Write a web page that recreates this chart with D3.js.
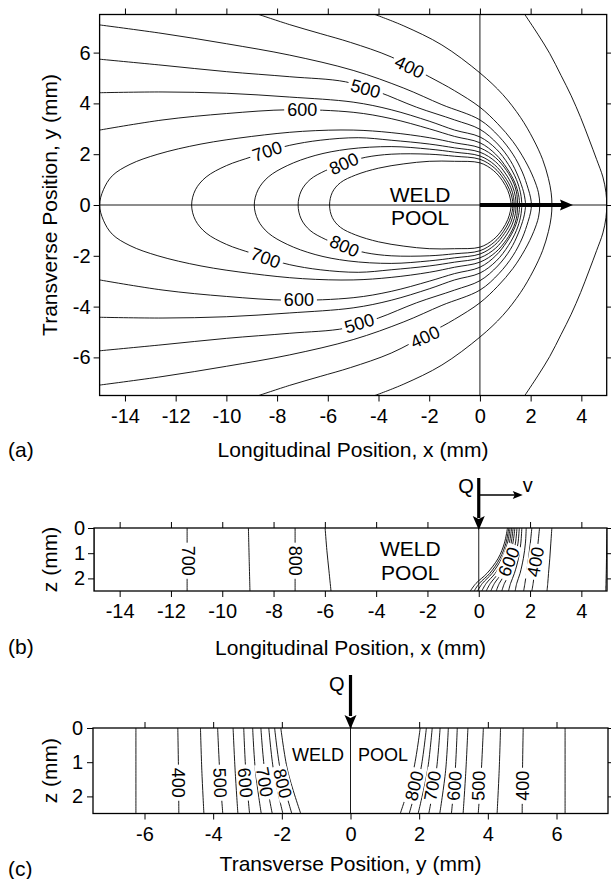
<!DOCTYPE html>
<html>
<head>
<meta charset="utf-8">
<script src="https://cdn.jsdelivr.net/npm/d3@7"></script>
<style>
body { margin: 0; background: #fff; }
text { font-family: "Liberation Sans", Arial, Helvetica, sans-serif; fill: #000; }
</style>
</head>
<body>
<script>
// Weld pool isotherms: (a) top view, (b) longitudinal section, (c) transverse
// section. All positions in mm.

// ---- tick labels ----
var xTicks = [-14, -12, -10, -8, -6, -4, -2, 0, 2, 4];
var yTicks = [-6, -4, -2, 0, 2, 4, 6];
var zTicks = [0, 1, 2];

// ---- (a) isotherms, upper half (y >= 0) [x, y] ----
// open curves: from the frame edge down to the nose on y = 0
var a300 = [[1.77,7.5],[2.3,6.7],[2.75,5.97],[3.2,5.1],[3.6,4.3],[3.97,3.45],
    [4.3,2.6],[4.6,1.8],[4.85,1.1],[4.97,0.5],[5.0,0]];
var a350 = [[-4.14,7.5],[-3,7.05],[-1.5,6.3],[0,5.2],[0.9,4.35],[1.6,3.45],
    [2.1,2.6],[2.47,1.8],[2.7,1.05],[2.81,0.48],[2.84,0]];
var a400 = [[-8.72,7.5],[-7.5,7.1],[-6.3,6.75],[-5.1,6.4],[-3.5,5.83],
    [-2.0,5.05],[-1.0,4.5],[0,3.85],[0.7,3.2],[1.3,2.5],[1.78,1.75],
    [2.12,1.05],[2.31,0.48],[2.36,0]];
var a450 = [[-15,7.09],[-12.5,6.75],[-10,6.35],[-7.5,5.9],[-5,5.3],[-3,4.6],
    [-1.5,3.95],[0,3.35],[0.75,2.7],[1.3,2.0],[1.67,1.3],[1.9,0.65],
    [2.0,0.28],[2.03,0]];
var a500 = [[-15,5.74],[-12.5,5.5],[-10,5.25],[-7.5,5.05],[-5.3,4.85],
    [-4.0,4.45],[-2.5,3.85],[-1,3.35],[0,2.98],[0.7,2.4],[1.2,1.75],
    [1.52,1.1],[1.72,0.52],[1.78,0.22],[1.8,0]];
var a550 = [[-15,4.42],[-12.5,4.45],[-10,4.4],[-7.5,4.25],[-5,4.05],
    [-3.5,3.75],[-2,3.3],[-1,2.95],[0,2.68],[0.65,2.2],[1.12,1.6],
    [1.44,1.0],[1.6,0.48],[1.64,0.2],[1.65,0]];
var a600 = [[-15,2.95],[-12.5,3.35],[-10,3.6],[-7.5,3.75],[-5,3.65],
    [-3.5,3.4],[-2,3.0],[-1,2.7],[0,2.45],[0.62,2.0],[1.06,1.45],
    [1.37,0.9],[1.52,0.42],[1.555,0.18],[1.56,0]];
// closed curves: from the rear nose to the front nose
var a650 = [[-15,0],[-14.85,0.6],[-14.5,1.15],[-13.8,1.6],[-12.7,2.0],
    [-11,2.4],[-9,2.7],[-7,2.9],[-5,2.95],[-3.5,2.85],[-2,2.65],[-1,2.45],
    [0,2.25],[0.62,1.86],[1.05,1.36],[1.33,0.86],[1.46,0.4],[1.48,0]];
var a700 = [[-11.37,0],[-11.22,0.6],[-10.8,1.1],[-10,1.55],[-9,1.9],
    [-8.4,2.1],[-7.5,2.35],[-6.3,2.55],[-4.8,2.65],[-3.5,2.55],[-2,2.4],
    [-1,2.25],[0,2.08],[0.62,1.7],[1.02,1.22],[1.28,0.75],[1.4,0.33],
    [1.42,0]];
var a750 = [[-8.9,0],[-8.75,0.6],[-8.35,1.1],[-7.6,1.55],[-6.5,1.95],
    [-5.2,2.2],[-3.5,2.3],[-2,2.2],[-1,2.08],[0,1.93],[0.58,1.58],
    [0.97,1.12],[1.22,0.68],[1.33,0.29],[1.35,0]];
var a800 = [[-7.17,0],[-7.05,0.55],[-6.7,1.0],[-6.1,1.35],[-5.37,1.65],
    [-4.5,1.88],[-3.5,2.0],[-2,2.0],[-1,1.92],[0,1.8],[0.57,1.46],
    [0.93,1.04],[1.16,0.62],[1.27,0.27],[1.3,0]];
var a850 = [[-5.93,0],[-5.82,0.5],[-5.5,0.88],[-4.9,1.18],[-4,1.45],
    [-3,1.62],[-2,1.72],[-1,1.72],[0,1.66],[0.53,1.36],[0.88,0.97],
    [1.1,0.57],[1.2,0.24],[1.23,0]];

// ---- (b) isotherms [x, z] ----
var b300 = [[5.0,0],[4.99,0.6],[4.98,1.2],[4.97,1.8],[4.96,2.2],[4.95,2.5]];
var b350 = [[2.85,0],[2.81,0.6],[2.77,1.2],[2.72,1.8],[2.69,2.2],[2.66,2.5]];
var b400 = [[2.37,0],[2.31,0.6],[2.24,1.2],[2.17,1.8],[2.12,2.2],[2.07,2.5]];
var b450 = [[2.07,0],[2.01,0.6],[1.94,1.2],[1.86,1.8],[1.80,2.2],[1.75,2.5]];
var b500 = [[1.85,0],[1.82,0.6],[1.74,1.2],[1.61,1.8],[1.48,2.2],[1.42,2.5]];
var b550 = [[1.68,0],[1.64,0.6],[1.55,1.2],[1.39,1.8],[1.24,2.2],[1.16,2.5]];
var b600 = [[1.58,0],[1.53,0.6],[1.41,1.2],[1.21,1.8],[1.0,2.2],[0.9,2.5]];
var b650 = [[1.49,0],[1.43,0.6],[1.29,1.2],[1.04,1.8],[0.8,2.2],[0.68,2.5]];
var b700 = [[1.41,0],[1.33,0.6],[1.18,1.2],[0.89,1.8],[0.61,2.2],[0.47,2.5]];
var b750 = [[1.34,0],[1.26,0.6],[1.08,1.2],[0.76,1.8],[0.45,2.2],[0.29,2.5]];
var b800 = [[1.28,0],[1.19,0.6],[0.99,1.2],[0.64,1.8],[0.29,2.2],[0.12,2.5]];
var b850 = [[1.22,0],[1.12,0.6],[0.90,1.2],[0.52,1.8],[0.14,2.2],[-0.05,2.5]];
var b900 = [[1.17,0],[1.06,0.6],[0.83,1.2],[0.43,1.8],[0.02,2.2],[-0.18,2.5]];
var b950 = [[1.12,0],[1.0,0.6],[0.76,1.2],[0.32,1.8],[-0.11,2.2],[-0.33,2.5]];
var b650r = [[-15,0],[-15,2.5]];
var b700r = [[-11.37,0],[-11.37,1.25],[-11.37,2.5]];
var b750r = [[-8.98,0],[-8.95,1.25],[-8.92,2.5]];
var b800r = [[-7.16,0],[-7.16,1.25],[-7.16,2.5]];
var b850r = [[-5.99,0],[-5.92,0.9],[-5.84,1.7],[-5.76,2.5]];

// ---- (c) isotherms, right half (y >= 0) [y, z] ----
var c350 = [[6.25,0],[6.25,1.25],[6.25,2.5]];
var c400 = [[5.03,0],[5.01,1.25],[5.0,2.5]];
var c450 = [[4.37,0],[4.33,1.25],[4.27,2.5]];
var c500 = [[3.87,0],[3.81,1.25],[3.72,2.5]];
var c550 = [[3.42,0],[3.36,1.25],[3.28,2.5]];
var c600 = [[3.11,0],[3.05,1.25],[2.94,2.5]];
var c650 = [[2.85,0],[2.77,1.25],[2.60,2.5]];
var c700 = [[2.61,0],[2.5,1.25],[2.28,2.5]];
var c750 = [[2.38,0],[2.24,1.25],[1.97,2.5]];
var c800 = [[2.21,0],[2.04,1.25],[1.71,2.5]];
var c850 = [[2.03,0],[1.83,1.25],[1.45,2.5]];

// ---- contour labels [value, x, y] ----
var labA = [[400,-2.77,5.44],[500,-4.51,4.59],[600,-7.01,3.74],
    [700,-8.39,2.13],[800,-5.37,1.64],[400,-2.17,-5.19],[500,-4.76,-4.65],
    [600,-7.14,-3.71],[700,-8.45,-2.07],[800,-5.34,-1.61]];
var rotA = [26, 15, 0, -19, -24, -25, -17, 0, 20, 24];
var labB = [[700,-11.3,1.3],[800,-7.14,1.3],[600,1.16,1.34],[400,2.2,1.34]];
var rotB = [90, 90, -68, -80];
var labC = [[400,-5.0,1.6],[500,-3.79,1.6],[600,-3.06,1.6],[700,-2.5,1.58],
    [800,-1.97,1.62],[800,1.85,1.69],[700,2.38,1.69],[600,3.02,1.69],
    [500,3.72,1.69],[400,5.01,1.69]];
var rotC = [90, 88, 85, 80, 76, -76, -80, -85, -88, -90];

var W = 611, H = 879;
var FONT = "'Liberation Sans', Arial, Helvetica, sans-serif";

var svg = d3.select("body").append("svg")
    .attr("width", W)
    .attr("height", H)
    .style("background", "#fff");

function mirrorOpen(pts) {
    // upper half + its mirror image, joined at the nose
    return pts.concat(pts.slice(0, -1).reverse().map(function (p) {
        return [p[0], -p[1]];
    }));
}
function mirrorClosed(pts) {
    return pts.concat(pts.slice(1, -1).reverse().map(function (p) {
        return [p[0], -p[1]];
    }));
}

function frameAndAxes(g, x, y, xt, yt, padLeft) {
    g.append("g")
        .attr("transform", "translate(0," + y.range()[0] + ")")
        .call(d3.axisBottom(x).tickValues(xt).tickSize(6).tickPadding(7)
            .tickSizeOuter(0).tickFormat(function (d) { return String(d); }));
    g.append("g")
        .attr("transform", "translate(0," + y.range()[1] + ")")
        .call(d3.axisTop(x).tickValues(xt).tickSize(6).tickSizeOuter(0)
            .tickFormat(""));
    g.append("g")
        .attr("transform", "translate(" + x.range()[0] + ",0)")
        .call(d3.axisLeft(y).tickValues(yt).tickSize(6).tickPadding(padLeft)
            .tickSizeOuter(0).tickFormat(function (d) { return String(d); }));
    g.append("g")
        .attr("transform", "translate(" + x.range()[1] + ",0)")
        .call(d3.axisRight(y).tickValues(yt).tickSize(6).tickSizeOuter(0)
            .tickFormat(""));
    g.selectAll(".domain").remove();
    g.selectAll(".tick line").attr("stroke", "#000").attr("stroke-width", 1);
    g.selectAll(".tick text")
        .attr("font-size", 20)
        .attr("font-family", FONT)
        .attr("fill", "#000");
    g.append("rect")
        .attr("x", x.range()[0])
        .attr("y", Math.min(y.range()[0], y.range()[1]))
        .attr("width", x.range()[1] - x.range()[0])
        .attr("height", Math.abs(y.range()[0] - y.range()[1]))
        .attr("fill", "none")
        .attr("stroke", "#000")
        .attr("stroke-width", 1.3);
}

function clipFor(id, x, y) {
    svg.append("clipPath").attr("id", id).append("rect")
        .attr("x", x.range()[0])
        .attr("y", Math.min(y.range()[0], y.range()[1]))
        .attr("width", x.range()[1] - x.range()[0])
        .attr("height", Math.abs(y.range()[0] - y.range()[1]));
}

function contourLabel(g, px, py, rot, txt, size) {
    var gg = g.append("g")
        .attr("transform", "translate(" + px + "," + py + ") rotate(" + rot + ")");
    var t = gg.append("text")
        .attr("text-anchor", "middle")
        .attr("dy", "0.36em")
        .attr("font-size", size)
        .text(txt);
    var w = t.node().getComputedTextLength();
    gg.insert("rect", "text")
        .attr("x", -w / 2 - 3)
        .attr("y", -size * 0.42)
        .attr("width", w + 6)
        .attr("height", size * 0.84)
        .attr("fill", "#fff");
}

function sideTitle(txt, px, py) {
    svg.append("text")
        .attr("transform", "translate(" + px + "," + py + ") rotate(-90)")
        .attr("text-anchor", "middle")
        .attr("font-size", 21)
        .text(txt);
}

// ======================= (a) top view ==================================
var xA = d3.scaleLinear().domain([-15, 5]).range([99.6, 606.7]);
var yA = d3.scaleLinear().domain([-7.5, 7.5]).range([395.5, 14.5]);
clipFor("clipA", xA, yA);
var gA = svg.append("g");
var lineA = d3.line()
    .x(function (d) { return xA(d[0]); })
    .y(function (d) { return yA(d[1]); });
var cA = gA.append("g").attr("clip-path", "url(#clipA)")
    .attr("fill", "none").attr("stroke", "#000").attr("stroke-width", 0.9);

[a300, a350, a400, a450, a500, a550, a600].forEach(function (c) {
    cA.append("path")
        .attr("d", lineA.curve(d3.curveCatmullRom.alpha(0.5))(mirrorOpen(c)));
});
[a650, a700, a750, a800, a850].forEach(function (c) {
    cA.append("path")
        .attr("d", lineA.curve(d3.curveCatmullRomClosed.alpha(0.5))(mirrorClosed(c)));
});
// axes of symmetry through the heat source
cA.append("line").attr("x1", xA(-15)).attr("x2", xA(5))
    .attr("y1", yA(0)).attr("y2", yA(0));
cA.append("line").attr("x1", xA(0)).attr("x2", xA(0))
    .attr("y1", yA(7.5)).attr("y2", yA(-7.5));

labA.forEach(function (d, i) {
    contourLabel(gA, xA(d[1]), yA(d[2]), rotA[i], d[0], 18);
});

// welding direction arrow
gA.append("line")
    .attr("x1", xA(0)).attr("x2", xA(3.67) - 10)
    .attr("y1", yA(0)).attr("y2", yA(0))
    .attr("stroke", "#000").attr("stroke-width", 4);
gA.append("path")
    .attr("d", "M" + xA(3.67) + "," + yA(0) + " l-13,-5.5 l2,5.5 l-2,5.5 z")
    .attr("fill", "#000");

gA.append("text").attr("x", xA(-2.36)).attr("y", 202)
    .attr("text-anchor", "middle").attr("font-size", 21).text("WELD");
gA.append("text").attr("x", xA(-2.36)).attr("y", 225)
    .attr("text-anchor", "middle").attr("font-size", 21).text("POOL");

frameAndAxes(gA, xA, yA, xTicks, yTicks, 3);
sideTitle("Transverse Position, y (mm)", 57, 205);
svg.append("text").attr("x", 353).attr("y", 457)
    .attr("text-anchor", "middle").attr("font-size", 21)
    .text("Longitudinal Position, x (mm)");
svg.append("text").attr("x", 8).attr("y", 457).attr("font-size", 21).text("(a)");

// ======================= (b) longitudinal section ======================
var xB = d3.scaleLinear().domain([-15, 5]).range([94, 607]);
var zB = d3.scaleLinear().domain([2.5, 0]).range([591, 528]);
clipFor("clipB", xB, zB);
var gB = svg.append("g");
var lineB = d3.line()
    .x(function (d) { return xB(d[0]); })
    .y(function (d) { return zB(d[1]); })
    .curve(d3.curveCatmullRom.alpha(0.5));
var cB = gB.append("g").attr("clip-path", "url(#clipB)")
    .attr("fill", "none").attr("stroke", "#000").attr("stroke-width", 0.9);
[b300, b350, b400, b450, b500, b550, b600, b650, b700, b750, b800, b850,
    b900, b950, b650r, b700r, b750r, b800r, b850r].forEach(function (c) {
    cB.append("path").attr("d", lineB(c));
});
cB.append("line").attr("x1", xB(0)).attr("x2", xB(0))
    .attr("y1", zB(0)).attr("y2", zB(2.5));

labB.forEach(function (d, i) {
    contourLabel(gB, xB(d[1]), zB(d[2]), rotB[i], d[0], 18);
});
gB.append("text").attr("x", xB(-2.67)).attr("y", 556)
    .attr("text-anchor", "middle").attr("font-size", 21).text("WELD");
gB.append("text").attr("x", xB(-2.67)).attr("y", 580)
    .attr("text-anchor", "middle").attr("font-size", 21).text("POOL");

frameAndAxes(gB, xB, zB, xTicks, zTicks, 3);

// heat input and travel speed
gB.append("line").attr("x1", xB(0)).attr("x2", xB(0))
    .attr("y1", 478).attr("y2", 518)
    .attr("stroke", "#000").attr("stroke-width", 3.2);
gB.append("path")
    .attr("d", "M" + xB(0) + ",530 l-6,-14 l6,3 l6,-3 z").attr("fill", "#000");
gB.append("text").attr("x", xB(0) - 5).attr("y", 493)
    .attr("text-anchor", "end").attr("font-size", 20).text("Q");
gB.append("line").attr("x1", xB(0)).attr("x2", xB(0) + 38)
    .attr("y1", 495).attr("y2", 495)
    .attr("stroke", "#000").attr("stroke-width", 1.3);
gB.append("path")
    .attr("d", "M" + (xB(0) + 44) + ",495 l-10,-4 l2,4 l-2,4 z").attr("fill", "#000");
gB.append("text").attr("x", xB(0) + 44).attr("y", 492)
    .attr("font-size", 20).text("v");

sideTitle("z (mm)", 57, 559.5);
svg.append("text").attr("x", 350.5).attr("y", 655)
    .attr("text-anchor", "middle").attr("font-size", 21)
    .text("Longitudinal Position, x (mm)");
svg.append("text").attr("x", 8).attr("y", 654).attr("font-size", 21).text("(b)");

// ======================= (c) transverse section ========================
var yC = d3.scaleLinear().domain([-7.5, 7.5]).range([93, 608]);
var zC = d3.scaleLinear().domain([2.5, 0]).range([813.5, 728]);
clipFor("clipC", yC, zC);
var gC = svg.append("g");
var lineC = d3.line()
    .x(function (d) { return yC(d[0]); })
    .y(function (d) { return zC(d[1]); })
    .curve(d3.curveCatmullRom.alpha(0.5));
var cC = gC.append("g").attr("clip-path", "url(#clipC)")
    .attr("fill", "none").attr("stroke", "#000").attr("stroke-width", 0.9);
[c350, c400, c450, c500, c550, c600, c650, c700, c750, c800, c850]
    .forEach(function (c) {
        cC.append("path").attr("d", lineC(c));
        cC.append("path").attr("d", lineC(c.map(function (p) {
            return [-p[0], p[1]];
        })));
    });
cC.append("line").attr("x1", yC(0)).attr("x2", yC(0))
    .attr("y1", zC(0)).attr("y2", zC(2.5));

labC.forEach(function (d, i) {
    contourLabel(gC, yC(d[1]), zC(d[2]), rotC[i], d[0], 18);
});
gC.append("text").attr("x", yC(-0.19)).attr("y", 761)
    .attr("text-anchor", "end").attr("font-size", 18).text("WELD");
gC.append("text").attr("x", yC(0.22)).attr("y", 761)
    .attr("font-size", 18).text("POOL");

frameAndAxes(gC, yC, zC, yTicks, zTicks, 4);

gC.append("line").attr("x1", yC(0)).attr("x2", yC(0))
    .attr("y1", 675).attr("y2", 716)
    .attr("stroke", "#000").attr("stroke-width", 3.2);
gC.append("path")
    .attr("d", "M" + yC(0) + ",729 l-6,-14 l6,3 l6,-3 z").attr("fill", "#000");
gC.append("text").attr("x", yC(0) - 6).attr("y", 691)
    .attr("text-anchor", "end").attr("font-size", 20).text("Q");

sideTitle("z (mm)", 57, 770.7);
svg.append("text").attr("x", 350.5).attr("y", 871)
    .attr("text-anchor", "middle").attr("font-size", 21)
    .text("Transverse Position, y (mm)");
svg.append("text").attr("x", 8).attr("y", 876).attr("font-size", 21).text("(c)");
</script>
</body>
</html>
